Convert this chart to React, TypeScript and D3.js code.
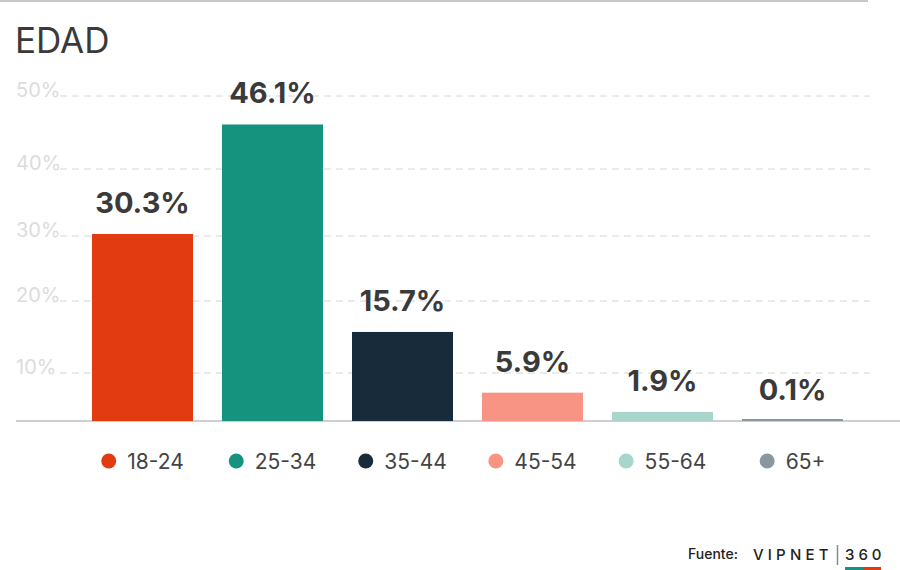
import React from "react";
import * as d3 from "d3";

const categories = ["18-24", "25-34", "35-44", "45-54", "55-64", "65+"];
const values = [30.3, 46.1, 15.7, 5.9, 1.9, 0.1];
const colors = ["#E23B12", "#16937F", "#172B3A", "#F79483", "#A8D5CC", "#8A979E"];
const tickValues = [10, 20, 30, 40, 50];
const tickLabels = ["10%", "20%", "30%", "40%", "50%"];

const W = 900;
const H = 570;
const FONT = "Inter, 'Noto Sans', sans-serif";

function measure(text: string, font: string): number {
  if (typeof document === "undefined") return text.length * 11;
  const c = document.createElement("canvas");
  const ctx = c.getContext("2d");
  if (!ctx) return text.length * 11;
  ctx.font = font;
  return ctx.measureText(text).width;
}

export default function App() {
  const x = d3
    .scaleBand<string>()
    .domain(categories)
    .range([63, 872])
    .paddingInner(0.2231)
    .paddingOuter(0.2231);
  // axis as drawn in the source is piecewise (uneven spacing)
  const y = d3
    .scaleLinear()
    .domain([0, 10, 20, 30, 40, 50])
    .range([421, 373, 301, 236, 169, 96]);

  const legendFont = `400 21px ${FONT}`;

  return (
    <svg
      width={W}
      height={H}
      style={{ position: "absolute", left: 0, top: 0, background: "#fff" }}
      fontFamily={FONT}
    >
      <rect x={0} y={0} width={W} height={H} fill="#fff" />
      <line x1={0} x2={868} y1={1} y2={1} stroke="#c8c8c8" strokeWidth={2} />
      <text x={15} y={53} fontSize={35} fill="#3a3a3a" fontWeight={400}>
        EDAD
      </text>

      {tickValues.map((t, i) => (
        <g key={t}>
          <line
            x1={60}
            x2={870}
            y1={y(t)}
            y2={y(t)}
            stroke="#d6d6d6"
            strokeWidth={1}
            strokeDasharray="7,5"
          />
          <text x={16} y={y(t) + 1} fontSize={20} fill="#dcdcdc">
            {tickLabels[i]}
          </text>
        </g>
      ))}

      <line x1={16} x2={900} y1={421} y2={421} stroke="#cfcfcf" strokeWidth={2} />

      {categories.map((c, i) => (
        <rect
          key={c}
          x={x(c)}
          y={Math.min(y(values[i]), y(0) - 2)}
          width={x.bandwidth()}
          height={Math.max(y(0) - y(values[i]), 2)}
          fill={colors[i]}
        />
      ))}

      {categories.map((c, i) => (
        <text
          key={c}
          x={(x(c) as number) + x.bandwidth() / 2}
          y={y(values[i]) - 21}
          textAnchor="middle"
          fontSize={29}
          fontWeight={700}
          fill="#3a3a3a"
        >
          {values[i].toFixed(1) + "%"}
        </text>
      ))}

      {categories.map((c, i) => {
        const tw = measure(c, legendFont);
        const r = 7.5;
        const gap = 11;
        const total = 2 * r + gap + tw;
        const cx = (x(c) as number) + x.bandwidth() / 2 - total / 2;
        return (
          <g key={c}>
            <circle cx={cx + r} cy={461} r={r} fill={colors[i]} />
            <text x={cx + 2 * r + gap} y={468.5} fontSize={21} fill="#444">
              {c}
            </text>
          </g>
        );
      })}

      <text x={688} y={559} fontSize={14} fill="#222" fontWeight={500}>
        Fuente:
      </text>
      <text x={753} y={560} fontSize={15} fill="#222" fontWeight={500} letterSpacing={4.2}>
        VIPNET
      </text>
      <line x1={837.5} x2={837.5} y1={545} y2={565} stroke="#888" strokeWidth={1.5} />
      <text x={845} y={560} fontSize={15} fill="#222" fontWeight={500} letterSpacing={4}>
        360
      </text>
      <rect x={845} y={567} width={18} height={3} fill="#16937F" />
      <rect x={863} y={567} width={18} height={3} fill="#E23B12" />
    </svg>
  );
}
